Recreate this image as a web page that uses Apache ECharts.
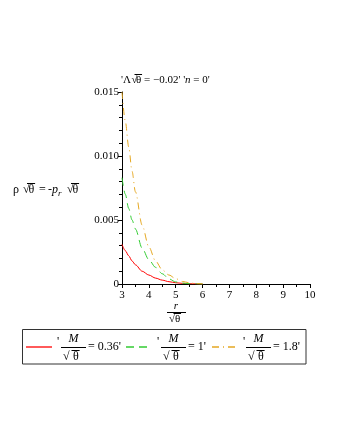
<!DOCTYPE html>
<html>
<head>
<meta charset="utf-8">
<script src="https://cdn.jsdelivr.net/npm/echarts@6/dist/echarts.min.js"></script>
<style>
  html, body { margin: 0; padding: 0; background: #fff; }
  #chart { width: 340px; height: 440px; }
</style>
</head>
<body>
<div id="chart"></div>
<script>
// r / sqrt(theta) sample points
var rVals = [3, 3.125, 3.25, 3.375, 3.5, 3.75, 4, 4.25, 4.5, 4.75, 5, 5.25, 5.5, 5.75, 6];
// rho sqrt(theta) for M/sqrt(theta) = 0.36, 1, 1.8
var red = [0.0031, 0.0026, 0.0022, 0.0018, 0.0015, 0.0010, 0.0007, 0.00046, 0.0003, 0.00018, 0.0001, 0.00005, 0.00002, 0.00001, 0];
var green = [0.0083, 0.0070, 0.0059, 0.0050, 0.0043, 0.0028, 0.0019, 0.0013, 0.0008, 0.0004, 0.00016, 0.00007, 0.00003, 0.00001, 0];
var orange = [0.0150, 0.0127, 0.0107, 0.0088, 0.0072, 0.0046, 0.0029, 0.0018, 0.0011, 0.0007, 0.00042, 0.0002, 0.0001, 0.00003, 0];
var yTicks = [0, 0.005, 0.010, 0.015];

var FONT = '"Liberation Serif", "Times New Roman", serif';

function pairs(ys) {
  return rVals.map(function (r, i) { return [r, ys[i]]; });
}

function txt(s, x, y, size, opts) {
  opts = opts || {};
  return {
    type: 'text',
    style: {
      text: s, x: x, y: y,
      font: (opts.italic ? 'italic ' : '') + size + 'px ' + FONT,
      fill: '#000',
      align: opts.align || 'left',
      verticalAlign: 'middle'
    }
  };
}

function hline(x1, x2, y, color, dash, w) {
  return {
    type: 'polyline',
    shape: { points: [[x1, y], [x2, y]] },
    style: { stroke: color || '#000', fill: null, lineWidth: w || 1, lineDash: dash || 'solid' }
  };
}

// square root of theta with the bar over it
function sqrtTheta(x, y, size, gap) {
  var top = Math.round(y - size * 0.55) + 0.5;
  return [
    txt('√', x, y, size),
    txt('θ', x + gap, y, size),
    hline(x + gap - 1.5, x + gap + size * 0.55, top)
  ];
}

var g = [];
// title
g.push(txt("'Λ", 121, 80, 11));
g = g.concat(sqrtTheta(131.5, 80, 11, 4.5));
g.push({
  type: 'text',
  style: {
    text: "{a|= −0.02' '}{i|n}{a| = 0'}", x: 144, y: 80, verticalAlign: 'middle',
    rich: {
      a: { font: '11px ' + FONT, fill: '#000' },
      i: { font: 'italic 11px ' + FONT, fill: '#000' }
    }
  }
});

// y axis name
g.push(txt('ρ', 13, 190, 12));
g = g.concat(sqrtTheta(23, 190, 12, 5.5));
g.push(txt('=', 39, 190, 12));
g.push(txt('-', 48, 190, 12));
g.push(txt('p', 52, 190, 12, { italic: true }));
g.push(txt('r', 58, 194, 9, { italic: true }));
g = g.concat(sqrtTheta(67, 190, 12, 5.5));

// x axis name: r over sqrt(theta)
g.push(txt('r', 176, 306, 11, { italic: true, align: 'center' }));
g.push(hline(167, 186, 312.5));
g = g.concat(sqrtTheta(169, 319, 11, 6));

// legend
g.push({
  type: 'rect',
  shape: { x: 22.5, y: 329.5, width: 283.5, height: 34.5 },
  style: { fill: 'none', stroke: '#333', lineWidth: 1 }
});
var legendItems = [
  { color: '#ff0000', dash: null, line: 26, quote: 57, frac: 61, tail: "= 0.36'", tailX: 88 },
  { color: '#33cc33', dash: [8, 5], line: 126, quote: 157, frac: 161, tail: "= 1'", tailX: 188 },
  { color: '#e5a823', dash: [7, 4, 1, 4], line: 212, quote: 243, frac: 246, tail: "= 1.8'", tailX: 273 }
];
legendItems.forEach(function (it) {
  g.push(hline(it.line, it.line + 26, 347, it.color, it.dash, 1.3));
  g.push(txt("'", it.quote, 342, 12));
  g.push(txt('M', it.frac + 12.5, 339, 12, { italic: true, align: 'center' }));
  g.push(hline(it.frac, it.frac + 25, 347.5));
  g = g.concat(sqrtTheta(it.frac + 2, 357, 12, 10));
  g.push(txt(it.tail, it.tailX, 347, 12));
});

var chart = echarts.init(document.getElementById('chart'));
chart.setOption({
  animation: false,
  backgroundColor: '#fff',
  grid: { left: 122, right: 30, top: 92, bottom: 156 },
  xAxis: {
    type: 'value', min: 3, max: 10, interval: 1,
    axisLine: { lineStyle: { color: '#000', width: 1 } },
    axisTick: { length: 4, lineStyle: { color: '#000' } },
    minorTick: { show: true, splitNumber: 2, length: 3, lineStyle: { color: '#000' } },
    axisLabel: { color: '#000', fontFamily: FONT, fontSize: 11, margin: 6 },
    splitLine: { show: false }
  },
  yAxis: {
    type: 'value', min: 0, max: 0.015, interval: 0.005,
    axisLine: { show: true, lineStyle: { color: '#000', width: 1 } },
    axisTick: { show: true, length: 4, lineStyle: { color: '#000' } },
    minorTick: { show: true, splitNumber: 5, length: 3, lineStyle: { color: '#000' } },
    axisLabel: {
      color: '#000', fontFamily: FONT, fontSize: 11, margin: 3,
      formatter: function (v) {
        var t = yTicks.find(function (k) { return Math.abs(k - v) < 1e-9; });
        return t === 0 ? '0' : (t !== undefined ? t.toFixed(3) : '');
      }
    },
    splitLine: { show: false }
  },
  series: [
    { type: 'line', data: pairs(red), showSymbol: false, smooth: 0.3, smoothMonotone: 'x',
      lineStyle: { color: '#ff0000', width: 1 } },
    { type: 'line', data: pairs(green), showSymbol: false, smooth: 0.3, smoothMonotone: 'x',
      lineStyle: { color: '#33cc33', width: 1, type: [8, 5] } },
    { type: 'line', data: pairs(orange), showSymbol: false, smooth: 0.3, smoothMonotone: 'x',
      lineStyle: { color: '#e5a823', width: 1, type: [7, 4, 1, 4] } }
  ],
  graphic: g
});
</script>
</body>
</html>
